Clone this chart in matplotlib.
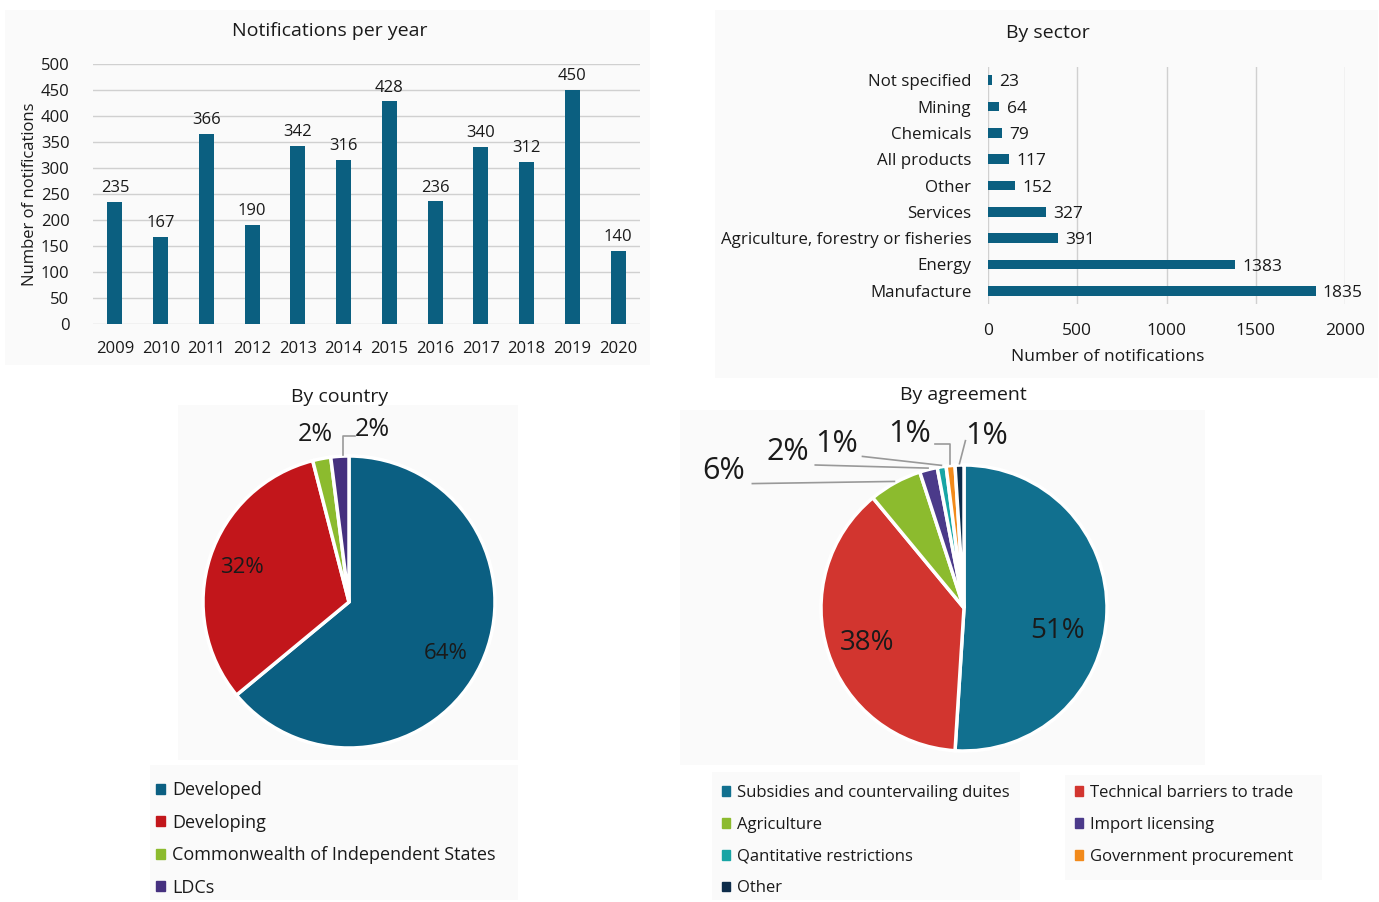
import numpy as np
import matplotlib
matplotlib.use("Agg")
import matplotlib.pyplot as plt
from matplotlib.patches import Patch, Rectangle

plt.rcParams['font.family'] = ['Open Sans', 'DejaVu Sans']

# ---- data ----
years = ['2009', '2010', '2011', '2012', '2013', '2014', '2015', '2016',
         '2017', '2018', '2019', '2020']
per_year = [235, 167, 366, 190, 342, 316, 428, 236, 340, 312, 450, 140]

sectors = ['Not specified', 'Mining', 'Chemicals', 'All products', 'Other',
           'Services', 'Agriculture, forestry or fisheries', 'Energy',
           'Manufacture']
per_sector = [23, 64, 79, 117, 152, 327, 391, 1383, 1835]

countries = ['Developed', 'Developing', 'Commonwealth of Independent States', 'LDCs']
country_pct = [64, 32, 2, 2]
country_colors = ['#0b5f82', '#c2161b', '#8cbb2e', '#45307f']

agreements = ['Subsidies and countervailing duites', 'Technical barriers to trade',
              'Agriculture', 'Import licensing', 'Qantitative restrictions',
              'Government procurement', 'Other']
agreement_pct = [51, 38, 6, 2, 1, 1, 1]
agreement_colors = ['#11708f', '#d2352f', '#8cbb2e', '#4b3a8a', '#17a5a5',
                    '#f28a1b', '#0d2c4a']

BAR = '#0b5f80'
TXT = '#1a1a1a'
W, H = 1379, 902

fig = plt.figure(figsize=(W / 100, H / 100), dpi=100)
fig.patch.set_facecolor('white')


def px_axes(x0, y0, x1, y1):
    # pixel box (top-left origin) -> figure axes
    return fig.add_axes([x0 / W, 1 - y1 / H, (x1 - x0) / W, (y1 - y0) / H])


def px_text(px, py, s, **kw):
    return fig.text(px / W, 1 - py / H, s, ha='center', va='center', color=TXT, **kw)


# faint panel backgrounds
for (x0, y0, x1, y1) in [(5, 10, 650, 365), (715, 10, 1378, 378),
                         (178, 405, 518, 760), (680, 410, 1205, 765),
                         (150, 765, 518, 900), (712, 772, 1020, 900),
                         (1065, 775, 1322, 880)]:
    fig.patches.append(Rectangle((x0 / W, 1 - y1 / H), (x1 - x0) / W, (y1 - y0) / H,
                                 transform=fig.transFigure, facecolor='#fafafa',
                                 edgecolor='none', zorder=-10))

# ---- notifications per year ----
ax1 = px_axes(93, 64, 640, 324)
ax1.set_facecolor('none')
x = np.arange(len(years))
ax1.bar(x, per_year, width=0.33, color=BAR, zorder=3)
for xi, v in zip(x, per_year):
    ax1.text(xi, v + 11, str(v), ha='center', va='bottom', fontsize=12, color=TXT)
ax1.set_xlim(-0.48, len(years) - 0.52)
ax1.set_ylim(0, 500)
ax1.set_yticks(np.arange(0, 501, 50))
ax1.set_xticks(x)
ax1.set_xticklabels(years)
ax1.yaxis.grid(True, color='#d0d0d0', lw=1)
for s in ax1.spines.values():
    s.set_visible(False)
ax1.tick_params(length=0, labelsize=12, colors=TXT)
ax1.tick_params(axis='x', pad=12)
ax1.tick_params(axis='y', pad=17)
ax1.set_ylabel('Number of notifications', fontsize=12, color=TXT, labelpad=2)
px_text(330, 31, 'Notifications per year', fontsize=14)

# ---- by sector ----
ax2 = px_axes(988, 67, 1345, 304)
ax2.set_facecolor('none')
y = np.arange(len(sectors))
ax2.barh(y, per_sector, height=0.36, color=BAR, zorder=3)
for yi, v in zip(y, per_sector):
    ax2.text(v + 40, yi + 0.08, str(v), ha='left', va='center', fontsize=12.5, color=TXT)
ax2.set_ylim(len(sectors) - 0.5, -0.5)
ax2.set_xlim(0, 2000)
ax2.set_xticks([0, 500, 1000, 1500, 2000])
ax2.set_yticks(y)
ax2.set_yticklabels(sectors)
ax2.xaxis.grid(True, color='#d0d0d0', lw=1)
for s in ax2.spines.values():
    s.set_visible(False)
ax2.tick_params(length=0, labelsize=12.5, colors=TXT)
ax2.tick_params(axis='x', pad=14)
ax2.tick_params(axis='y', pad=12, labelsize=12.2)
px_text(1108, 357, 'Number of notifications', fontsize=12.5)
px_text(1048, 33, 'By sector', fontsize=14)


def pie_axes(cx, cy, r, half=200):
    ax = px_axes(cx - half, cy - half, cx + half, cy + half)
    return ax, half / r


def fix_limits(ax, lim):
    ax.set_xlim(-lim, lim)
    ax.set_ylim(-lim, lim)
    ax.set_aspect('equal')
    ax.axis('off')


def mid_angles(pcts):
    out = []
    start = 90.0
    for p in pcts:
        span = p / sum(pcts) * 360
        out.append(np.deg2rad(start - span / 2))
        start -= span
    return out


# ---- by country ----
ax3, lim3 = pie_axes(349, 602, 146)
ax3.pie(country_pct, colors=country_colors, startangle=90, counterclock=False,
        radius=1, wedgeprops=dict(edgecolor='white', linewidth=2.5))
fix_limits(ax3, lim3)
ang = mid_angles(country_pct)
for i, rr in [(0, 0.75), (1, 0.77)]:
    a = ang[i] - (np.deg2rad(3) if i == 0 else 0)
    ax3.text(rr * np.cos(a), rr * np.sin(a), f'{country_pct[i]}%', ha='center',
             va='center', fontsize=16, color=TXT)
ax3.text(-0.23, 1.15, f'{country_pct[2]}%', ha='center', va='center', fontsize=18, color=TXT)
ax3.text(0.04, 1.18, f'{country_pct[3]}%', ha='left', va='center', fontsize=18, color=TXT)
ex, ey = np.cos(ang[3]), np.sin(ang[3])
ax3.plot([0.04, -0.04, -0.04], [1.14, 1.14, ey + 0.01], color='#999999', lw=1.2)
px_text(340, 397, 'By country', fontsize=14)
fig.legend(handles=[Patch(color=c, label=l) for c, l in zip(country_colors, countries)],
           loc='upper left', bbox_to_anchor=(140 / W, 1 - 765 / H), frameon=False,
           handlelength=0.5, handleheight=0.5, handletextpad=0.4, labelspacing=0.8,
           fontsize=13, labelcolor=TXT)

# ---- by agreement ----
ax4, lim4 = pie_axes(964, 608, 143, half=230)
ax4.pie(agreement_pct, colors=agreement_colors, startangle=90, counterclock=False,
        radius=1, wedgeprops=dict(edgecolor='white', linewidth=2.5))
fix_limits(ax4, lim4)
ang = mid_angles(agreement_pct)
a0 = ang[0] - np.deg2rad(12)
ax4.text(0.67 * np.cos(a0), 0.67 * np.sin(a0), f'{agreement_pct[0]}%',
         ha='center', va='center', fontsize=20, color=TXT)
a1 = ang[1] + np.deg2rad(2)
ax4.text(0.72 * np.cos(a1), 0.72 * np.sin(a1), f'{agreement_pct[1]}%',
         ha='center', va='center', fontsize=20, color=TXT)
# outside labels: (slice, text x, y, line start x, y, elbow)
outside = [(2, -1.68, 0.96, -1.48, 0.87, False),
           (3, -1.23, 1.09, -1.04, 1.00, False),
           (4, -0.89, 1.15, -0.71, 1.06, False),
           (5, -0.38, 1.22, -0.20, 1.15, True),
           (6, 0.16, 1.20, 0.01, 1.17, False)]
for i, tx, ty, lx, ly, elbow in outside:
    ax4.text(tx, ty, f'{agreement_pct[i]}%', ha='center', va='center',
             fontsize=22, color=TXT)
    ex, ey = 1.01 * np.cos(ang[i]), 1.01 * np.sin(ang[i])
    if elbow:
        ax4.plot([lx, ex, ex], [ly, ly, ey], color='#999999', lw=1.2)
    else:
        ax4.plot([lx, ex], [ly, ey], color='#999999', lw=1.2)
px_text(963, 395, 'By agreement', fontsize=14)
order = [0, 2, 4, 6, 1, 3, 5]
fig.legend(handles=[Patch(color=agreement_colors[k], label=agreements[k]) for k in order],
           loc='upper left', bbox_to_anchor=(707 / W, 1 - 770 / H), frameon=False,
           ncol=2, columnspacing=3.9,
           handlelength=0.5, handleheight=0.5, handletextpad=0.4, labelspacing=0.95,
           fontsize=12, labelcolor=TXT)

fig.savefig('out.png', dpi=100)
